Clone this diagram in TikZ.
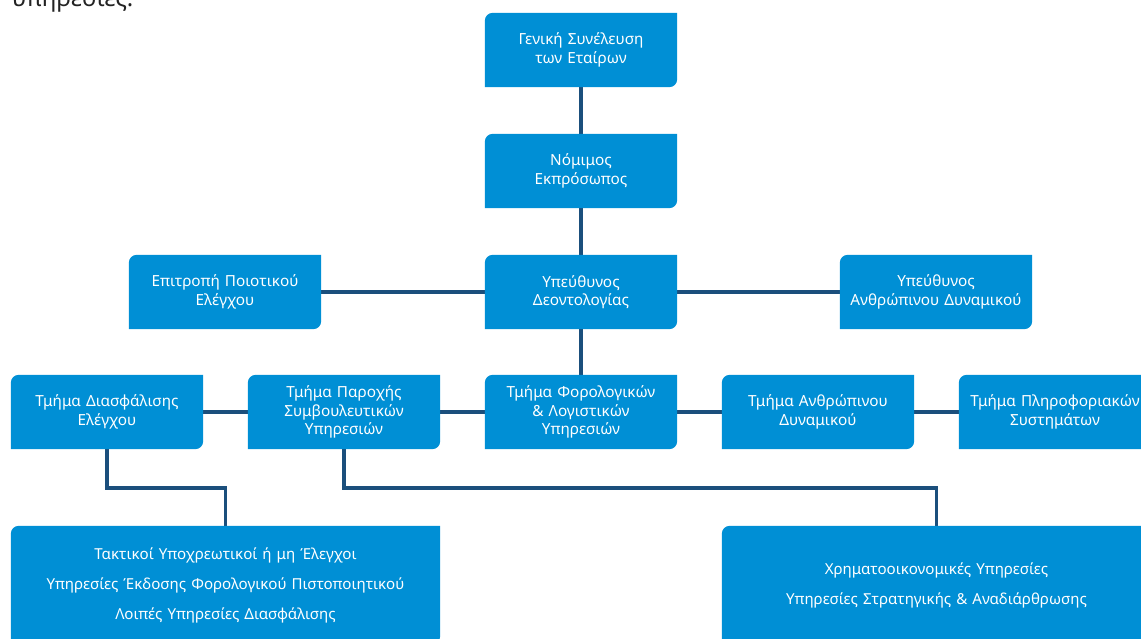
\documentclass[tikz,border=0pt]{standalone}
\usepackage{fontspec}
\setmainfont{Noto Sans}
\usetikzlibrary{backgrounds}
\definecolor{boxblue}{RGB}{0,143,213}
\definecolor{linkblue}{RGB}{27,79,124}
\definecolor{headgrey}{RGB}{35,35,35}
\def\orgshape#1{\fill[boxblue] (#1.south west) -- ([yshift=-8pt]#1.north west) arc (180:90:8pt) -- (#1.north east) -- ([yshift=8pt]#1.south east) arc (0:-90:8pt) -- cycle;}

\begin{document}
\begin{tikzpicture}[x=1pt, y=1pt,
		unit/.style={rectangle, inner sep=0pt, minimum width=192pt, minimum height=74pt, text width=188pt, align=center, text=white, font=\fontsize{15.3}{18.5}\selectfont},
		widebox/.style={unit, minimum width=429pt, minimum height=118pt, text width=420pt, font=\fontsize{15.1}{30}\selectfont},
		link/.style={linkblue, line width=3.5pt}]
			%%%%% START %%%%%
			
			\useasboundingbox (0, 0) rectangle (1141, -639);
			
			\node[anchor=base west, inner sep=0pt, text=headgrey, font=\fontsize{24}{28}\selectfont] (head) at (12, -7) {υπηρεσίες.};
			
			\node[unit] (gs) at (581, -50) {Γενική Συνέλευση\\των Εταίρων};
			\node[unit] (ne) at (581, -171) {Νόμιμος\\Εκπρόσωπος};
			
			\node[unit] (ep) at (225, -292) {Επιτροπή Ποιοτικού\\Ελέγχου};
			\node[unit] (yd) at (581, -292) {Υπεύθυνος\\Δεοντολογίας};
			\node[unit] (ya) at (936, -292) {Υπεύθυνος\\Ανθρώπινου Δυναμικού};
			
			\node[unit] (td) at (107, -412) {Τμήμα Διασφάλισης\\Ελέγχου};
			\node[unit] (tp) at (344, -412) {Τμήμα Παροχής\\Συμβουλευτικών\\Υπηρεσιών};
			\node[unit] (tf) at (581, -412) {Τμήμα Φορολογικών\\\&~Λογιστικών\\Υπηρεσιών};
			\node[unit] (tad) at (818, -412) {Τμήμα Ανθρώπινου\\Δυναμικού};
			\node[unit] (tpl) at (1055, -412) {Τμήμα Πληροφοριακών\\Συστημάτων};
			
			\node[widebox] (wl) at (225.5, -585) {Τακτικοί Υποχρεωτικοί ή μη Έλεγχοι\\Υπηρεσίες Έκδοσης Φορολογικού Πιστοποιητικού\\Λοιπές Υπηρεσίες Διασφάλισης};
			\node[widebox] (wr) at (936.5, -585) {Χρηματοοικονομικές Υπηρεσίες\\Υπηρεσίες Στρατηγικής \& Αναδιάρθρωσης};
			
			\begin{scope}[on background layer]
				\draw[link] (gs) -- (ne);
				\draw[link] (ne) -- (yd);
				\draw[link] (ep) -- (yd);
				\draw[link] (yd) -- (ya);
				\draw[link] (yd) -- (tf);
				
				\draw[link] (td) -- (tp);
				\draw[link] (tp) -- (tf);
				\draw[link] (tf) -- (tad);
				\draw[link] (tad) -- (tpl);
				
				\draw[link] (td.south) -- ++(0, -39) -| (wl.north);
				\draw[link] (tp.south) -- ++(0, -39) -| (wr.north);
				
				\foreach \n in {gs, ne, ep, yd, ya, td, tp, tf, tad, tpl, wl, wr}
					{\orgshape{\n}}
			\end{scope}
			
			%%%%% END %%%%%
		\end{tikzpicture}
\end{document}
